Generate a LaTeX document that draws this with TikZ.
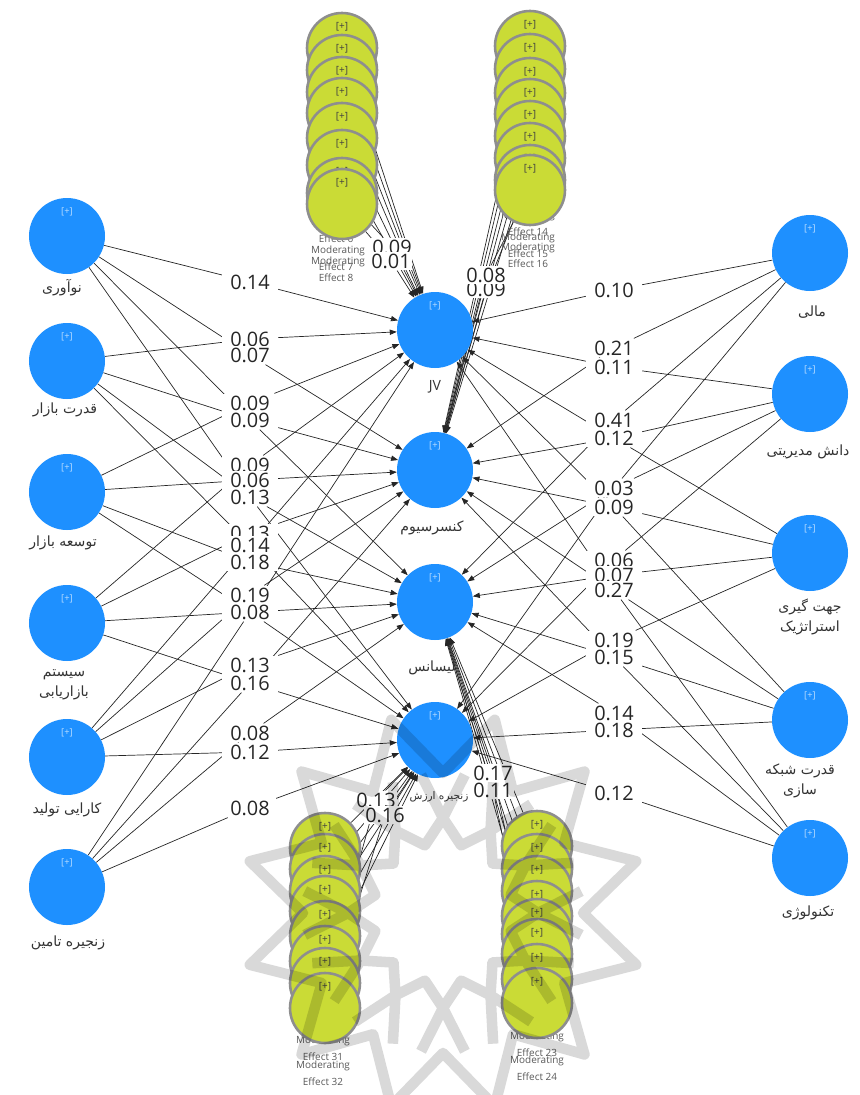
\documentclass[tikz,border=0pt]{standalone}
\usepackage{fontspec}
\setmainfont{Open Sans}
\newfontfamily\fafont[Script=Arabic]{DejaVu Sans}
\TeXXeTstate=1
\usetikzlibrary{arrows.meta,backgrounds}

\definecolor{lvblue}{HTML}{1E90FF}
\definecolor{modfill}{HTML}{CADB36}
\definecolor{modedge}{HTML}{8E8E8E}
\newcommand{\fa}[1]{{\fafont\beginR #1\endR}}

\tikzset{
  lv/.style={circle, fill=lvblue, minimum size=2.28cm, inner sep=0pt,
    path picture={\node[font=\fontsize{8}{8}\selectfont, text=white!70!lvblue]
      at ([yshift=-0.42cm]path picture bounding box.north) {[+]};}},
  md/.style={circle, fill=modfill, draw=modedge, line width=2.2pt,
    minimum size=2.1cm, inner sep=0pt,
    path picture={\node[font=\fontsize{8.5}{8.5}\selectfont, text=black!75]
      at ([yshift=-0.42cm]path picture bounding box.north) {[+]};}},
  lvname/.style={font=\fontsize{12}{17}\selectfont, text=black!80, align=center},
  coef/.style={fill=white, inner xsep=7pt, inner ysep=1.5pt, text height=12.5pt,
    text depth=0.5pt, font=\fontsize{17}{17}\selectfont, text=black!85},
  mcoef/.style={coef, inner xsep=1pt},
  mtext/.style={font=\fontsize{8.5}{8.5}\selectfont, text=black!65},
  ln/.style={line width=0.6pt, black!85},
  ar/.style={ln, -{Triangle[length=6pt, width=4.5pt]}},
}

\begin{document}
\begin{tikzpicture}[x=0.03cm, y=-0.03cm]
\useasboundingbox (0,0) rectangle (859,1095);

%%%%% moderating effects %%%%%
\foreach \i/\y in {1/48,2/70,3/92,4/113,5/138,6/165,7/193,8/204}{
  \node[md] (m\i) at (342,\y) {};
  \node[mtext] at (338,\y+58) {Moderating};
  \node[mtext] at (336,\y+74) {Effect \i};
}
\foreach \i/\y in {9/46,10/69,11/93,12/114,13/136,14/158,15/180,16/190}{
  \node[md] (m\i) at (530,\y) {};
  \node[mtext] at (528,\y+58) {Moderating};
  \node[mtext] at (528,\y+74) {Effect \i};
}
\foreach \i/\y in {17/846,18/869,19/891,20/916,21/934,22/954,23/979,24/1003}{
  \node[md] (m\i) at (537,\y) {};
  \node[mtext] at (537,\y+58) {Moderating};
  \node[mtext] at (537,\y+74) {Effect \i};
}
\foreach \i/\y in {25/848,26/869,27/891,28/911,29/936,30/961,31/983,32/1008}{
  \node[md] (m\i) at (325,\y) {};
  \node[mtext] at (323,\y+58) {Moderating};
  \node[mtext] at (323,\y+74) {Effect \i};
}

%%%%% left constructs %%%%%
\node[lv] (L1) at (67,236) {};
\node[lv] (L2) at (67,361) {};
\node[lv] (L3) at (67,492) {};
\node[lv] (L4) at (67,623) {};
\node[lv] (L5) at (67,757) {};
\node[lv] (L6) at (67,887) {};
\node[lvname] at (62,288) {\fa{نوآوری}};
\node[lvname] at (65,410) {\fa{قدرت بازار}};
\node[lvname] at (63,543) {\fa{توسعه بازار}};
\node[lvname] at (64,685) {\fa{سیستم}\\\fa{بازاریابی}};
\node[lvname] at (67,810) {\fa{کارایی تولید}};
\node[lvname] at (68,943) {\fa{زنجیره تامین}};

%%%%% right constructs %%%%%
\node[lv] (R1) at (810,253) {};
\node[lv] (R2) at (810,394) {};
\node[lv] (R3) at (810,553) {};
\node[lv] (R4) at (810,720) {};
\node[lv] (R5) at (810,858) {};
\node[lvname] at (812,312) {\fa{مالی}};
\node[lvname] at (808,452) {\fa{دانش مدیریتی}};
\node[lvname] at (810,617) {\fa{جهت گیری}\\\fa{استراتژیک}};
\node[lvname] at (800,781) {\fa{قدرت شبکه}\\\fa{سازی}};
\node[lvname] at (808,913) {\fa{تکنولوژی}};

%%%%% centre constructs %%%%%
\node[lv] (JV) at (435,330) {};
\node[lv] (CO) at (435,470) {};
\node[lv] (LI) at (435,602) {};
\node[lv] (VC) at (435,740) {};
\node[lvname] at (435,387) {JV};
\node[lvname] at (432,528) {\fa{کنسرسیوم}};
\node[lvname] at (432,668) {\fa{لیسانس}};
\node[lvname, font=\fontsize{9}{10}\selectfont] at (439,797) {\fa{زنجیره ارزش}};

%%%%% path coefficients, left %%%%%
\node[coef] (a01) at (250,282) {0.14};
\node[coef] (a02) at (250,339) {0.06};
\node[coef] (a03) at (250,355) {0.07};
\node[coef] (a04) at (250,403) {0.09};
\node[coef] (h01) at (250,420) {\phantom{0.00}};
\node[coef] (a05) at (250,420) {0.09};
\node[coef] (a06) at (250,465) {0.09};
\node[coef] (a07) at (250,480) {0.06};
\node[coef] (h02) at (250,497) {\phantom{0.00}};
\node[coef] (a08) at (250,497) {0.13};
\node[coef] (a09) at (250,533) {0.13};
\node[coef] (h03) at (250,545) {\phantom{0.00}};
\node[coef] (a10) at (250,545) {0.14};
\node[coef] (a11) at (250,562) {0.18};
\node[coef] (a12) at (250,595) {0.19};
\node[coef] (h04) at (250,612) {\phantom{0.00}};
\node[coef] (h05) at (250,612) {\phantom{0.00}};
\node[coef] (a13) at (250,612) {0.08};
\node[coef] (a14) at (250,665) {0.13};
\node[coef] (h06) at (250,683) {\phantom{0.00}};
\node[coef] (a15) at (250,683) {0.16};
\node[coef] (a16) at (250,733) {0.08};
\node[coef] (a17) at (250,752) {0.12};
\node[coef] (a18) at (250,808) {0.08};

%%%%% path coefficients, right %%%%%
\node[coef] (b01) at (614,290) {0.10};
\node[coef] (b02) at (614,348) {0.21};
\node[coef] (b03) at (614,367) {0.11};
\node[coef] (b04) at (614,420) {0.41};
\node[coef] (h07) at (614,438) {\phantom{0.00}};
\node[coef] (b05) at (614,438) {0.12};
\node[coef] (h08) at (614,488) {\phantom{0.00}};
\node[coef] (b06) at (614,488) {0.03};
\node[coef] (h09) at (614,507) {\phantom{0.00}};
\node[coef] (b07) at (614,507) {0.09};
\node[coef] (b08) at (614,560) {0.06};
\node[coef] (b09) at (614,575) {0.07};
\node[coef] (h10) at (614,590) {\phantom{0.00}};
\node[coef] (b10) at (614,590) {0.27};
\node[coef] (b11) at (614,640) {0.19};
\node[coef] (h11) at (614,657) {\phantom{0.00}};
\node[coef] (b12) at (614,657) {0.15};
\node[coef] (b13) at (614,713) {0.14};
\node[coef] (b14) at (614,730) {0.18};
\node[coef] (b15) at (614,793) {0.12};

%%%%% moderating coefficients %%%%%
\node[mcoef] (k1) at (392,247) {0.09};
\node[mcoef] (k2) at (391,261) {0.01};
\node[mcoef] (k3) at (486,289) {0.09};
\node[mcoef] (k4) at (486,275) {0.08};
\node[mcoef] (k5) at (376,800) {0.13};
\node[mcoef] (k6) at (385,815) {0.16};
\node[mcoef] (k7) at (493,773) {0.17};
\node[mcoef] (k8) at (493,790) {0.11};

%%%%% paths %%%%%
\begin{scope}[on background layer]
\foreach \s/\c/\t in {L1/a01/JV, L2/a02/JV, L1/a03/CO, L3/a04/JV, L1/h01/LI,
    L2/a05/CO, L4/a06/JV, L3/a07/CO, L1/h02/VC, L2/a08/LI, L4/a09/CO,
    L5/h03/JV, L2/a10/VC, L3/a11/LI, L5/a12/CO, L6/h04/JV, L3/h05/VC,
    L4/a13/LI, L5/a14/LI, L6/h06/CO, L4/a15/VC, L6/a16/LI, L5/a17/VC,
    L6/a18/VC,
    R1/b01/JV, R1/b02/CO, R2/b03/JV, R1/b04/LI, R3/h07/JV, R2/b05/CO,
    R1/h08/VC, R2/b06/LI, R4/h09/JV, R3/b07/CO, R2/b08/VC, R3/b09/LI,
    R5/h10/JV, R4/b10/CO, R3/b11/VC, R5/h11/CO, R4/b12/LI, R5/b13/LI,
    R4/b14/VC, R5/b15/VC,
    m7/k1/JV, m8/k2/JV, m15/k3/CO, m16/k4/CO,
    m31/k5/VC, m32/k6/VC, m23/k7/LI, m24/k8/LI}
  {\draw[ln] (\s) -- (\c); \draw[ar] (\c) -- (\t);}
\foreach \i in {1,...,6} \draw[ar] (m\i) -- (JV);
\foreach \i in {9,...,14} \draw[ar] (m\i) -- (CO);
\foreach \i in {17,...,22} \draw[ar] (m\i) -- (LI);
\foreach \i in {25,...,30} \draw[ar] (m\i) -- (VC);
\end{scope}

%%%%% watermark rosette %%%%%
\begin{scope}[shift={(443,913)}]
\draw[black, draw opacity=0.15, line width=9pt, line join=round]
  (0:140) \foreach \k in {1,...,23} {-- ({\k*15}:{mod(\k,2)==0 ? 140 : 200})} -- cycle
  (15:70) \foreach \k in {1,...,23} {-- ({15+\k*15}:{mod(\k,2)==0 ? 70 : 95})} -- cycle
  \foreach \k in {0,...,11} {({\k*30}:95) -- ({\k*30+9}:140) ({\k*30}:95) -- ({\k*30-9}:140)};
\end{scope}
\end{tikzpicture}
\end{document}
